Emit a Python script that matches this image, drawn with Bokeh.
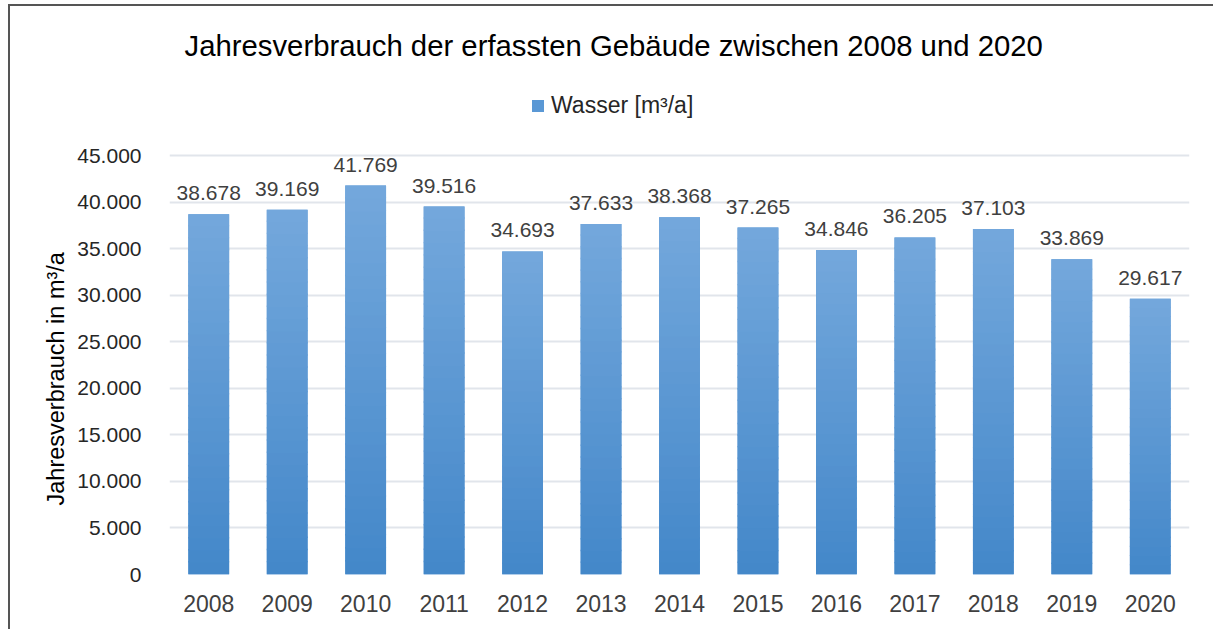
from bokeh.plotting import figure
from bokeh.models import (ColumnDataSource, Legend, LegendItem, Title, CustomJSTickFormatter, Range1d,
                          FactorRange, FixedTicker)
from bokeh.embed import file_html
from bokeh.resources import INLINE
from bokeh.core.properties import value

years = ["2008", "2009", "2010", "2011", "2012", "2013", "2014", "2015", "2016", "2017", "2018", "2019", "2020"]
wasser = [38678, 39169, 41769, 39516, 34693, 37633, 38368, 37265, 34846, 36205, 37103, 33869, 29617]
y_ticks = [0, 5000, 10000, 15000, 20000, 25000, 30000, 35000, 40000, 45000]

FONT = "Liberation Sans"
labels = [f"{v:,}".replace(",", ".") for v in wasser]

# frame extends above the 45.000 gridline so the legend can sit inside it
y_end = 45000 * 494 / 419

p = figure(x_range=FactorRange(*years), y_range=Range1d(0, y_end),
           width=1205, height=625, output_backend="svg", toolbar_location=None,
           min_border_left=159, min_border_right=26, min_border_top=74, min_border_bottom=57,
           title=None)
p.outline_line_color = None
p.background_fill_color = "white"
p.border_fill_color = "white"
p.styles = {"margin-left": "8px", "margin-top": "4px",
            "border-left": "2px solid #555555", "border-top": "2px solid #555555"}

src = ColumnDataSource(dict(x=years, top=wasser, label=labels))
bars = p.vbar(x="x", top="top", width=0.52, source=src, fill_color="#5A98D5", line_color=None)

# gradient overlay (light at top, dark at bottom) built from the same values
N = 30
c_top = (0x74, 0xA8, 0xDC)
c_bot = (0x43, 0x87, 0xC9)
gx, gb, gt, gc = [], [], [], []
for yr, v in zip(years, wasser):
    for i in range(N):
        f = (i + 0.5) / N
        r = int(round(c_bot[0] + (c_top[0] - c_bot[0]) * f))
        g = int(round(c_bot[1] + (c_top[1] - c_bot[1]) * f))
        b = int(round(c_bot[2] + (c_top[2] - c_bot[2]) * f))
        gx.append(yr)
        gb.append(v * i / N)
        gt.append(min(v, v * (i + 1) / N + v * 0.004))
        gc.append(f"#{r:02x}{g:02x}{b:02x}")
p.vbar(x=gx, bottom=gb, top=gt, width=0.52, fill_color=gc, line_color=None)

p.text(x="x", y="top", text="label", source=src, text_align="center", text_baseline="bottom",
       y_offset=-14, text_font=value(FONT), text_font_size="21px", text_color="#404040")

# axes
p.xaxis.axis_line_color = None
p.xaxis.major_tick_line_color = None
p.xaxis.minor_tick_line_color = None
p.xaxis.major_label_text_font = FONT
p.xaxis.major_label_text_font_size = "23px"
p.xaxis.major_label_text_color = "#404040"
p.xaxis.major_label_standoff = 14

p.yaxis.ticker = FixedTicker(ticks=y_ticks)
p.yaxis.formatter = CustomJSTickFormatter(code="return tick.toString().replace(/\\B(?=(\\d{3})+(?!\\d))/g, '.');")
p.yaxis.axis_line_color = None
p.yaxis.major_tick_line_color = None
p.yaxis.minor_tick_line_color = None
p.yaxis.major_label_text_font = FONT
p.yaxis.major_label_text_font_size = "21px"
p.yaxis.major_label_text_color = "#262626"
p.yaxis.major_label_standoff = 22

p.xgrid.grid_line_color = None
p.ygrid.grid_line_color = "#E1E5EB"
p.ygrid.grid_line_width = 2

ylabel = Title(text="Jahresverbrauch in m³/a", align="left", offset=69,
               text_font=FONT, text_font_size="23.5px", text_font_style="normal", text_color="#000000",
               standoff=12)
p.add_layout(ylabel, "left")

legend = Legend(items=[LegendItem(label="Wasser [m³/a]", renderers=[bars])],
                orientation="horizontal", location=(361, 455),
                label_text_font=FONT, label_text_font_size="23px", label_text_color="#262626",
                glyph_width=15, glyph_height=15, border_line_color=None, background_fill_alpha=0,
                margin=0, padding=4, label_standoff=6)
p.add_layout(legend, "center")

title = Title(text="Jahresverbrauch der erfassten Gebäude zwischen 2008 und 2020", align="left",
              offset=15,
              text_font=FONT, text_font_size="29.3px", text_font_style="normal", text_color="#000000",
              standoff=38)
p.add_layout(title, "above")

open("out.html", "w").write(file_html(p, INLINE))
